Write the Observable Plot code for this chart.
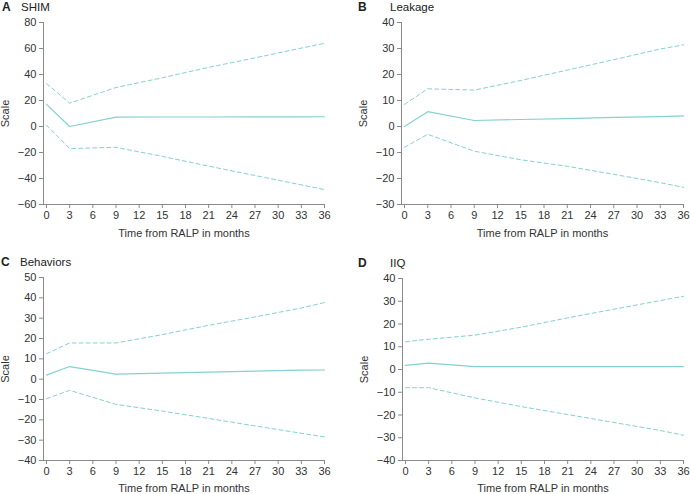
<!DOCTYPE html>
<html><head><meta charset="utf-8">
<script src="https://cdn.jsdelivr.net/npm/d3@7"></script>
<script src="https://cdn.jsdelivr.net/npm/@observablehq/plot@0.6"></script>
<style>
body{margin:0;background:#fff;font-family:"Liberation Sans",Arial,sans-serif;}
#wrap{position:relative;width:690px;height:494px;overflow:hidden;}
.panel{position:absolute;}
.ttl{position:absolute;font-size:11.5px;color:#222;line-height:12px;white-space:nowrap;}
.ttl b{position:absolute;left:0;top:0;font-size:12px;}
.ttl span{position:absolute;top:0;}
</style></head>
<body><div id="wrap"></div>
<script>
const months = [0, 3, 9, 15, 21, 27, 33, 36];
const xTicks = [0, 3, 6, 9, 12, 15, 18, 21, 24, 27, 30, 33, 36];

const panelLetters = ["A", "B", "C", "D"];
const panelNames = ["SHIM", "Leakage", "Behaviors", "IIQ"];
const yDomains = [[-60, 80], [-30, 40], [-40, 50], [-40, 40]];
const yTickSteps = [20, 10, 10, 10];

const shimMean  = [17, 0, 7.2, 7.3, 7.3, 7.4, 7.4, 7.5];
const shimUpper = [33, 18, 30, 37.5, 45.5, 52.8, 60.3, 64];
const shimLower = [1, -17, -16, -23, -30.5, -37.7, -44.9, -48.5];

const leakMean  = [0, 5.7, 2.3, 2.7, 3, 3.5, 3.8, 4.1];
const leakUpper = [8.5, 14.5, 14, 17.7, 21.7, 25.7, 29.8, 31.4];
const leakLower = [-8, -3, -9.5, -12.8, -15.3, -18.4, -21.6, -23.4];

const behMean  = [2, 6.2, 2.5, 3, 3.5, 4, 4.4, 4.5];
const behUpper = [12.5, 17.8, 17.8, 21.9, 26.5, 30.6, 35, 37.7];
const behLower = [-9.6, -5.5, -12.4, -15.7, -19.3, -23, -26.6, -28.4];

const iiqMean  = [1.8, 2.8, 1.3, 1.3, 1.3, 1.3, 1.3, 1.3];
const iiqUpper = [12.2, 13.3, 15.1, 18.6, 22.7, 26.5, 30.3, 32.2];
const iiqLower = [-8, -8, -12.5, -16.3, -19.8, -23.3, -26.8, -28.9];

const seriesSets = [
  [shimMean, shimUpper, shimLower],
  [leakMean, leakUpper, leakLower],
  [behMean, behUpper, behLower],
  [iiqMean, iiqUpper, iiqLower]
];

// layout (positions / margins)
const layout = [
  {left: 0,   top: 0,   ml: 43, mr: 21, mt: 22, mb: 43, tx: 2,   ty: 1,   nx: 19, lo: 32},
  {left: 345, top: 0,   ml: 56, mr: 7,  mt: 22, mb: 43, tx: 13,  ty: 1,   nx: 32, lo: 32},
  {left: 0,   top: 247, ml: 43, mr: 21, mt: 30, mb: 34, tx: 1,   ty: 9,   nx: 19, lo: 31},
  {left: 345, top: 247, ml: 57, mr: 7,  mt: 31, mb: 34, tx: 13,  ty: 10,  nx: 32, lo: 31}
];

const lineColor = "#86d0d0";
const axisColor = "#8a8a8a";
const wrap = document.getElementById("wrap");

panelLetters.forEach((letter, i) => {
  const [mean, upper, lower] = seriesSets[i];
  const L = layout[i];
  const toRows = arr => months.map((m, j) => ({m, v: arr[j]}));
  const [y0, y1] = yDomains[i];
  const yTicks = d3.range(y0, y1 + 0.001, yTickSteps[i]);
  const chart = Plot.plot({
    width: 345, height: 247,
    marginLeft: L.ml, marginRight: L.mr, marginTop: L.mt, marginBottom: L.mb,
    style: {fontFamily: '"Liberation Sans", Arial, sans-serif', fontSize: "11px", color: "#333", background: "transparent", overflow: "visible"},
    x: {domain: [0, 36], insetLeft: 3},
    y: {domain: yDomains[i]},
    marks: [
      Plot.ruleY([y0], {stroke: axisColor, strokeWidth: 1}),
      Plot.ruleX([0], {stroke: axisColor, strokeWidth: 1, dx: -3}),
      Plot.axisY({ticks: yTicks, tickSize: 4, tickPadding: 3, stroke: axisColor, fill: "#333",
        label: "Scale", labelAnchor: "center", labelOffset: 42, labelArrow: false}),
      Plot.axisX({ticks: xTicks, tickSize: 4, tickPadding: 3, stroke: axisColor, fill: "#333",
        label: "Time from RALP in months", labelAnchor: "center", labelOffset: L.lo, labelArrow: false}),
      Plot.line(toRows(upper), {x: "m", y: "v", stroke: lineColor, strokeWidth: 1, strokeDasharray: "4,3"}),
      Plot.line(toRows(lower), {x: "m", y: "v", stroke: lineColor, strokeWidth: 1, strokeDasharray: "4,3"}),
      Plot.line(toRows(mean), {x: "m", y: "v", stroke: lineColor, strokeWidth: 1.2})
    ]
  });
  const div = document.createElement("div");
  div.className = "panel";
  div.style.left = L.left + "px";
  div.style.top = L.top + "px";
  div.appendChild(chart);
  const t = document.createElement("div");
  t.className = "ttl";
  t.style.left = L.tx + "px";
  t.style.top = L.ty + "px";
  t.innerHTML = `<b>${letter}</b><span style="left:${L.nx}px">${panelNames[i]}</span>`;
  div.appendChild(t);
  wrap.appendChild(div);
});
</script>
</body></html>
